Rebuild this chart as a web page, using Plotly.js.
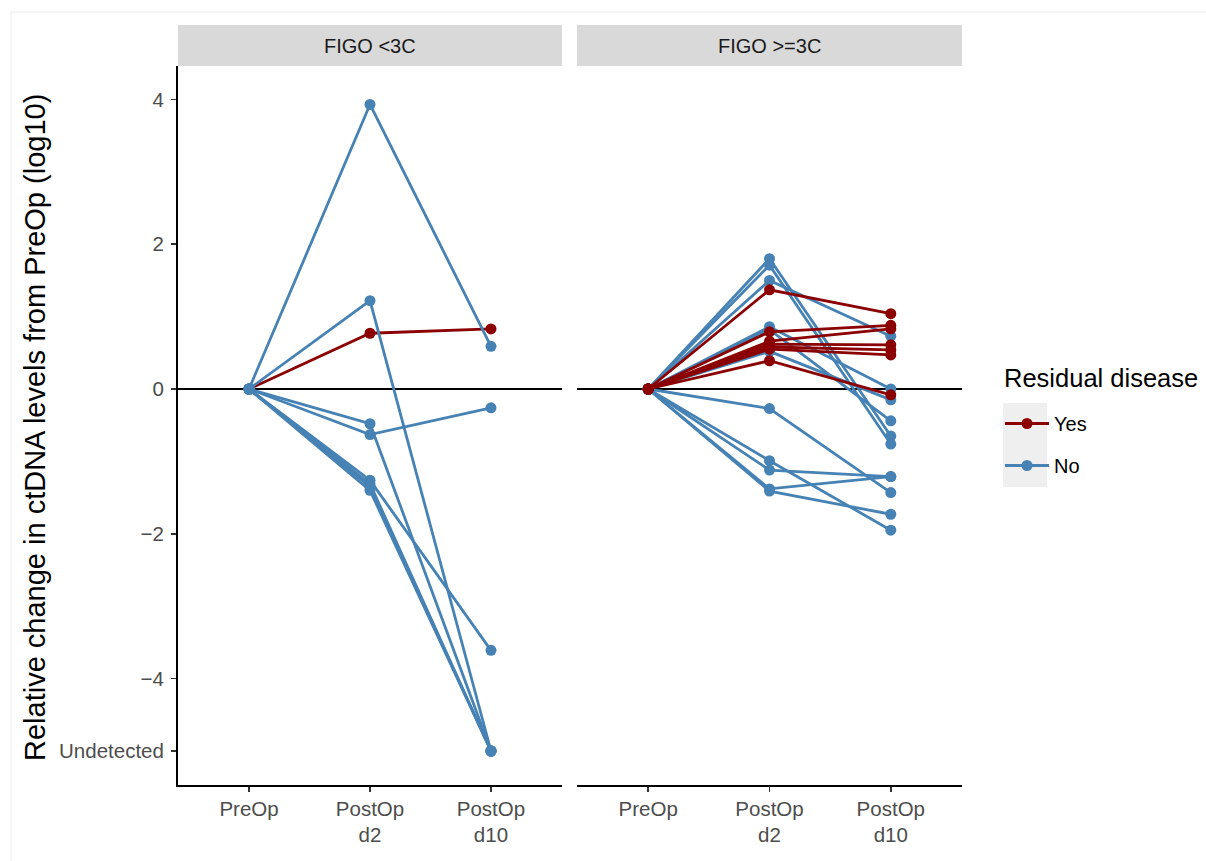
<!DOCTYPE html>
<html><head><meta charset="utf-8">
<script src="https://cdn.plot.ly/plotly-3.0.1.min.js"></script>
<style>html,body{margin:0;padding:0;background:#fff}</style>
</head><body><div id="chart" style="width:1206px;height:861px"></div>
<script>
// ---- data ----
const timepoints = ["PreOp", "PostOp<br>d2", "PostOp<br>d10"];
const panelLabels = ["FIGO &lt;3C", "FIGO &gt;=3C"];
const yTickVals = [4, 2, 0, -2, -4, -5];
const yTickText = ["4", "2", "0", "\u22122", "\u22124", "Undetected"];
const legendTitle = "Residual disease";
const residColors = {"Yes": "#8B0000", "No": "#4682B4"};

// FIGO <3C panel
const low_pre   = [0, 0, 0, 0, 0, 0, 0, 0, 0];
const low_d2    = [0.77, 3.93, 1.22, -0.48, -0.63, -1.26, -1.31, -1.35, -1.40];
const low_d10   = [0.83, 0.59, -5, -5, -0.26, -3.61, -5, -5, -5];
const low_resid = ["Yes", "No", "No", "No", "No", "No", "No", "No", "No"];

// FIGO >=3C panel
const high_pre   = [0, 0, 0, 0, 0, 0, 0, 0, 0, 0, 0, 0, 0, 0, 0, 0, 0, 0];
const high_d2    = [1.80, 1.71, 1.50, 0.86, 0.82, 0.52, -0.27, -0.99, -1.12, -1.38, -1.41, 1.37, 0.79, 0.66, 0.62, 0.58, 0.55, 0.39];
const high_d10   = [-0.65, -0.76, 0.73, 0.00, -0.44, -0.15, -1.43, -1.95, -1.21, -1.21, -1.73, 1.04, 0.88, 0.83, 0.61, 0.54, 0.47, -0.08];
const high_resid = ["No","No","No","No","No","No","No","No","No","No","No","Yes","Yes","Yes","Yes","Yes","Yes","Yes"];

// ---- build traces ----
const W = 1206, H = 861;
const shown = {};
function makeTrace(pre, d2, d10, res, xa, ya) {
  const first = !shown[res];
  shown[res] = true;
  return {
    x: timepoints, y: [pre, d2, d10], xaxis: xa, yaxis: ya,
    type: "scatter", mode: "lines+markers",
    name: res, legendgroup: res, showlegend: first,
    line: {color: residColors[res], width: 2.8},
    marker: {color: residColors[res], size: 11},
    hoverinfo: "skip"
  };
}
const traces = [];
for (let i = 0; i < low_d2.length; i++) if (low_resid[i] === "Yes") traces.push(makeTrace(low_pre[i], low_d2[i], low_d10[i], low_resid[i], "x", "y"));
for (let i = 0; i < low_d2.length; i++) if (low_resid[i] === "No") traces.push(makeTrace(low_pre[i], low_d2[i], low_d10[i], low_resid[i], "x", "y"));
for (let i = 0; i < high_d2.length; i++) if (high_resid[i] === "No") traces.push(makeTrace(high_pre[i], high_d2[i], high_d10[i], high_resid[i], "x2", "y2"));
for (let i = 0; i < high_d2.length; i++) if (high_resid[i] === "Yes") traces.push(makeTrace(high_pre[i], high_d2[i], high_d10[i], high_resid[i], "x2", "y2"));

// ---- layout ----
const px = v => v / W, py = v => (H - v) / H;
const plotTop = 66, plotBot = 785;
const dom1 = [px(178), px(562)], dom2 = [px(577), px(962)];
const yRange = [(389 - plotBot) / 72.4, (389 - plotTop) / 72.4];
const xRange = [-0.587, 2.587];
const tickFont = {family: "Liberation Sans, Arial, sans-serif", size: 20.5, color: "#4d4d4d"};

const xBase = {
  type: "category", categoryorder: "array", categoryarray: timepoints,
  range: xRange, showgrid: false, zeroline: false,
  showline: true, linecolor: "#000", linewidth: 2,
  ticks: "outside", ticklen: 5, tickcolor: "#333", tickwidth: 1.5,
  tickfont: tickFont, fixedrange: true, ticklabelstandoff: -1
};
const layout = {
  width: W, height: H,
  margin: {l: 0, r: 0, t: 0, b: 0},
  paper_bgcolor: "#fff", plot_bgcolor: "#fff",
  font: {family: "Liberation Sans, Arial, sans-serif", color: "#000"},
  xaxis: Object.assign({}, xBase, {domain: dom1, anchor: "y"}),
  xaxis2: Object.assign({}, xBase, {domain: dom2, anchor: "y2"}),
  yaxis: {
    domain: [py(plotBot), py(plotTop)], range: yRange, anchor: "x",
    tickvals: yTickVals, ticktext: yTickText, tickfont: tickFont,
    showgrid: false, zeroline: false, showline: true, linecolor: "#000", linewidth: 2,
    ticks: "outside", ticklen: 5, tickcolor: "#333", tickwidth: 1.5, fixedrange: true,
    ticklabelstandoff: 3
  },
  yaxis2: {
    domain: [py(plotBot), py(plotTop)], range: yRange, anchor: "x2",
    showgrid: false, zeroline: false, showline: false, showticklabels: false,
    ticks: "", fixedrange: true
  },
  showlegend: true,
  legend: {
    x: px(1000), y: py(404), xanchor: "left", yanchor: "top",
    bgcolor: "rgba(0,0,0,0)", traceorder: "grouped", tracegroupgap: 13,
    font: {size: 20, color: "#000"},
    itemwidth: 44
  },
  shapes: [
    {type: "rect", xref: "paper", yref: "paper", x0: px(11), x1: 1.01, y0: -0.01, y1: py(12),
     line: {color: "#ececec", width: 1}, fillcolor: "rgba(0,0,0,0)", layer: "below"},
    {type: "rect", xref: "paper", yref: "paper", x0: dom1[0], x1: dom1[1], y0: py(plotTop), y1: py(25),
     fillcolor: "#d9d9d9", line: {width: 0}},
    {type: "rect", xref: "paper", yref: "paper", x0: dom2[0], x1: dom2[1], y0: py(plotTop), y1: py(25),
     fillcolor: "#d9d9d9", line: {width: 0}},
    {type: "line", xref: "x domain", yref: "y", x0: 0, x1: 1, y0: 0, y1: 0,
     line: {color: "#000", width: 2}, layer: "below"},
    {type: "line", xref: "x2 domain", yref: "y2", x0: 0, x1: 1, y0: 0, y1: 0,
     line: {color: "#000", width: 2}, layer: "below"},
    {type: "rect", xref: "paper", yref: "paper", x0: px(1003), x1: px(1047), y0: py(487), y1: py(403),
     fillcolor: "#efefef", line: {width: 0}, layer: "below"}
  ],
  annotations: [
    {xref: "paper", yref: "paper", x: (dom1[0] + dom1[1]) / 2, y: py(45.5), text: panelLabels[0],
     showarrow: false, font: {size: 20, color: "#1a1a1a"}, xanchor: "center", yanchor: "middle"},
    {xref: "paper", yref: "paper", x: (dom2[0] + dom2[1]) / 2, y: py(45.5), text: panelLabels[1],
     showarrow: false, font: {size: 20, color: "#1a1a1a"}, xanchor: "center", yanchor: "middle"},
    {xref: "paper", yref: "paper", x: px(35), y: py(428), textangle: -90,
     text: "Relative change in ctDNA levels from PreOp (log10)",
     showarrow: false, font: {size: 29, color: "#000"}, xanchor: "center", yanchor: "middle"},
    {xref: "paper", yref: "paper", x: px(1002), y: py(378), text: legendTitle,
     showarrow: false, font: {size: 25.5, color: "#000"}, xanchor: "left", yanchor: "middle"}
  ]
};
Plotly.newPlot("chart", traces, layout, {displayModeBar: false, staticPlot: true});
</script>
</body></html>
